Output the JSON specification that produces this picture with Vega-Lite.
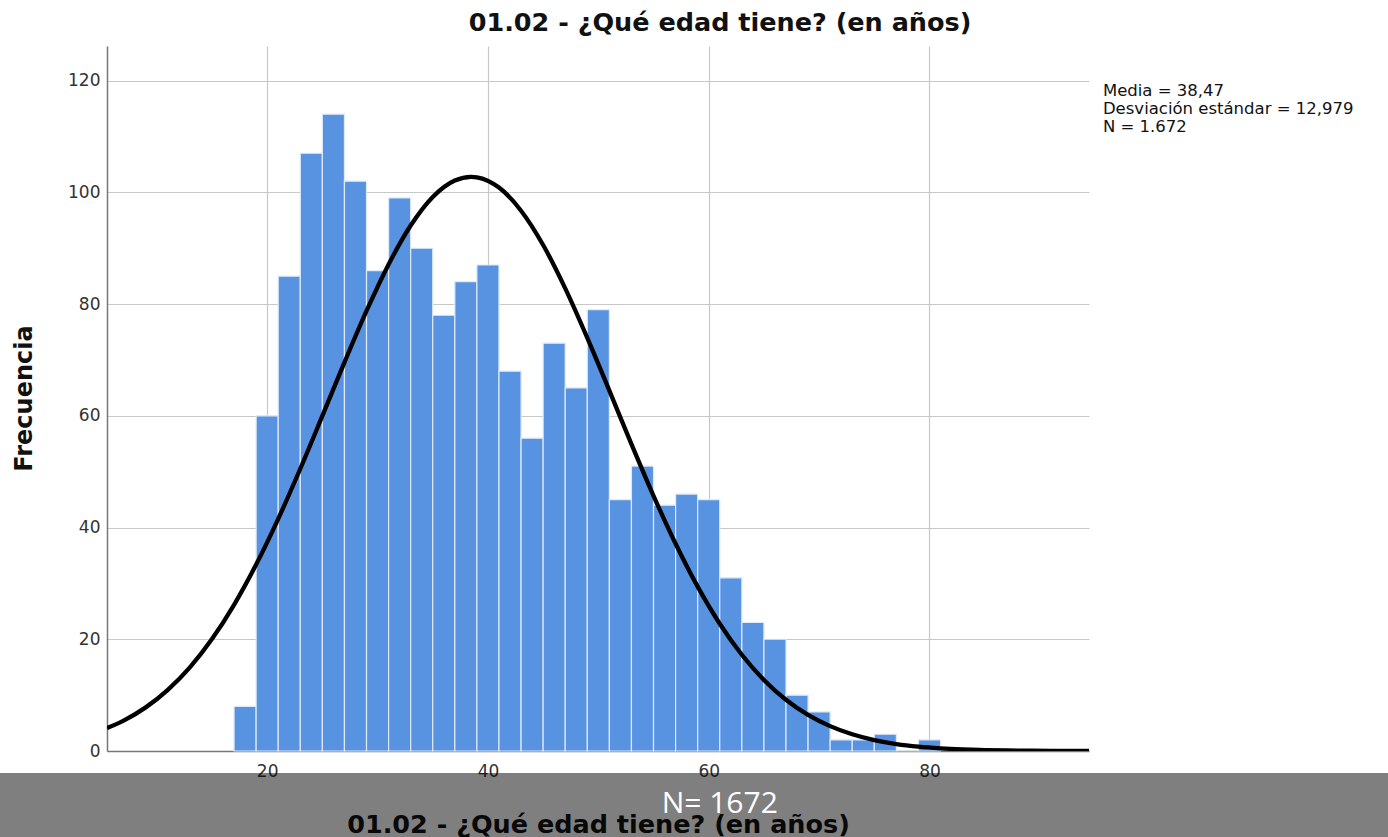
{
  "$schema": "https://vega.github.io/schema/vega-lite/v6.json",
  "width": 982,
  "height": 705,
  "autosize": {"type": "none"},
  "padding": {"left": 107, "top": 46, "right": 299, "bottom": 86},
  "background": "white",
  "config": {"view": {"stroke": null}, "font": "DejaVu Sans"},
  "title": {
    "text": "01.02 - ¿Qué edad tiene? (en años)",
    "font": "DejaVu Sans",
    "fontSize": 25.5,
    "fontWeight": "bold",
    "color": "#111111",
    "anchor": "middle",
    "dx": 122,
    "dy": 24,
    "offset": 14,
    "baseline": "alphabetic"
  },
  "datasets": {
    "bins": [
      {"start": 17, "end": 19, "count": 8},
      {"start": 19, "end": 21, "count": 60},
      {"start": 21, "end": 23, "count": 85},
      {"start": 23, "end": 25, "count": 107},
      {"start": 25, "end": 27, "count": 114},
      {"start": 27, "end": 29, "count": 102},
      {"start": 29, "end": 31, "count": 86},
      {"start": 31, "end": 33, "count": 99},
      {"start": 33, "end": 35, "count": 90},
      {"start": 35, "end": 37, "count": 78},
      {"start": 37, "end": 39, "count": 84},
      {"start": 39, "end": 41, "count": 87},
      {"start": 41, "end": 43, "count": 68},
      {"start": 43, "end": 45, "count": 56},
      {"start": 45, "end": 47, "count": 73},
      {"start": 47, "end": 49, "count": 65},
      {"start": 49, "end": 51, "count": 79},
      {"start": 51, "end": 53, "count": 45},
      {"start": 53, "end": 55, "count": 51},
      {"start": 55, "end": 57, "count": 44},
      {"start": 57, "end": 59, "count": 46},
      {"start": 59, "end": 61, "count": 45},
      {"start": 61, "end": 63, "count": 31},
      {"start": 63, "end": 65, "count": 23},
      {"start": 65, "end": 67, "count": 20},
      {"start": 67, "end": 69, "count": 10},
      {"start": 69, "end": 71, "count": 7},
      {"start": 71, "end": 73, "count": 2},
      {"start": 73, "end": 75, "count": 2},
      {"start": 75, "end": 77, "count": 3},
      {"start": 77, "end": 79, "count": 0},
      {"start": 79, "end": 81, "count": 2}
    ],
    "curve": [
      {"age": 5.49, "freq": 4.1},
      {"age": 7, "freq": 5.44},
      {"age": 9, "freq": 7.81},
      {"age": 11, "freq": 10.95},
      {"age": 13, "freq": 14.98},
      {"age": 15, "freq": 20.04},
      {"age": 17, "freq": 26.17},
      {"age": 19, "freq": 33.37},
      {"age": 21, "freq": 41.55},
      {"age": 23, "freq": 50.52},
      {"age": 25, "freq": 59.99},
      {"age": 27, "freq": 69.56},
      {"age": 29, "freq": 78.77},
      {"age": 31, "freq": 87.1},
      {"age": 33, "freq": 94.06},
      {"age": 35, "freq": 99.18},
      {"age": 37, "freq": 102.13},
      {"age": 38.47, "freq": 102.79},
      {"age": 39, "freq": 102.7},
      {"age": 41, "freq": 100.86},
      {"age": 43, "freq": 96.72},
      {"age": 45, "freq": 90.57},
      {"age": 47, "freq": 82.82},
      {"age": 49, "freq": 73.96},
      {"age": 51, "freq": 64.51},
      {"age": 53, "freq": 54.93},
      {"age": 55, "freq": 45.68},
      {"age": 57, "freq": 37.1},
      {"age": 59, "freq": 29.42},
      {"age": 61, "freq": 22.78},
      {"age": 63, "freq": 17.23},
      {"age": 65, "freq": 12.73},
      {"age": 67, "freq": 9.18},
      {"age": 69, "freq": 6.46},
      {"age": 71, "freq": 4.45},
      {"age": 73, "freq": 2.99},
      {"age": 75, "freq": 1.96},
      {"age": 77, "freq": 1.25},
      {"age": 79, "freq": 0.78},
      {"age": 81, "freq": 0.48},
      {"age": 83, "freq": 0.29},
      {"age": 85, "freq": 0.17},
      {"age": 87, "freq": 0.09},
      {"age": 89, "freq": 0.05},
      {"age": 91, "freq": 0.03},
      {"age": 93, "freq": 0.01},
      {"age": 94.45, "freq": 0.01}
    ]
  },
  "layer": [
    {
      "data": {"name": "bins"},
      "mark": {"type": "rect", "color": "#5893e1", "stroke": "#dfe9f7", "strokeWidth": 1.2},
      "encoding": {
        "x": {
          "field": "start",
          "type": "quantitative",
          "title": "01.02 - ¿Qué edad tiene? (en años)",
          "scale": {"domain": [5.49, 94.45], "nice": false, "zero": false},
          "axis": {
            "values": [20, 40, 60, 80],
            "grid": true,
            "gridColor": "#c8c8c8",
            "gridWidth": 1.2,
            "ticks": false,
            "domainColor": "#777777",
            "domainWidth": 1.5,
            "labelFont": "DejaVu Sans",
            "labelFontSize": 17,
            "labelColor": "#333333",
            "labelPadding": 12,
            "labelFlush": false,
            "titleFont": "DejaVu Sans",
            "titleFontSize": 25.5,
            "titleFontWeight": "bold",
            "titleColor": "#111111",
            "titleX": 491,
            "titleY": 81,
            "titleAlign": "center",
            "titleBaseline": "alphabetic"
          }
        },
        "x2": {"field": "end"},
        "y": {
          "field": "count",
          "type": "quantitative",
          "title": "Frecuencia",
          "scale": {"domain": [0, 126.2], "nice": false},
          "axis": {
            "values": [0, 20, 40, 60, 80, 100, 120],
            "grid": true,
            "gridColor": "#c8c8c8",
            "gridWidth": 1.2,
            "ticks": false,
            "domainColor": "#777777",
            "domainWidth": 1.5,
            "labelFont": "DejaVu Sans",
            "labelFontSize": 17,
            "labelColor": "#333333",
            "labelPadding": 7,
            "titleFont": "DejaVu Sans",
            "titleFontSize": 24,
            "titleFontWeight": "bold",
            "titleColor": "#111111",
            "titleX": -83,
            "titleY": 352,
            "titleAngle": 270,
            "titleAlign": "center",
            "titleBaseline": "middle"
          }
        },
        "y2": {"datum": 0}
      }
    },
    {
      "data": {"name": "curve"},
      "mark": {"type": "line", "color": "black", "strokeWidth": 4.3, "interpolate": "monotone", "clip": true},
      "encoding": {
        "x": {"field": "age", "type": "quantitative", "title": "01.02 - ¿Qué edad tiene? (en años)"},
        "y": {"field": "freq", "type": "quantitative", "title": "Frecuencia"}
      }
    },
    {
      "data": {"values": [{}]},
      "mark": {
        "type": "text",
        "text": ["Media = 38,47", "Desviación estándar = 12,979", "N = 1.672"],
        "align": "left",
        "baseline": "alphabetic",
        "font": "DejaVu Sans",
        "fontSize": 16.5,
        "letterSpacing": 0.8,
        "lineHeight": 18,
        "color": "#111111"
      },
      "encoding": {
        "x": {"datum": 95.71, "type": "quantitative"},
        "y": {"datum": 117.3, "type": "quantitative"}
      }
    },
    {
      "data": {"values": [{}]},
      "mark": {"type": "rect", "color": "black", "opacity": 0.5, "clip": false},
      "encoding": {
        "x": {"datum": -15, "type": "quantitative"},
        "x2": {"datum": 140},
        "y": {"datum": -3.94, "type": "quantitative"},
        "y2": {"datum": -30}
      }
    },
    {
      "data": {"values": [{}]},
      "mark": {
        "type": "text",
        "text": "N= 1672",
        "align": "center",
        "baseline": "alphabetic",
        "font": "Open Sans",
        "fontSize": 30,
        "color": "white"
      },
      "encoding": {
        "x": {"datum": 61.0, "type": "quantitative"},
        "y": {"datum": -11.1, "type": "quantitative"}
      }
    }
  ]
}
